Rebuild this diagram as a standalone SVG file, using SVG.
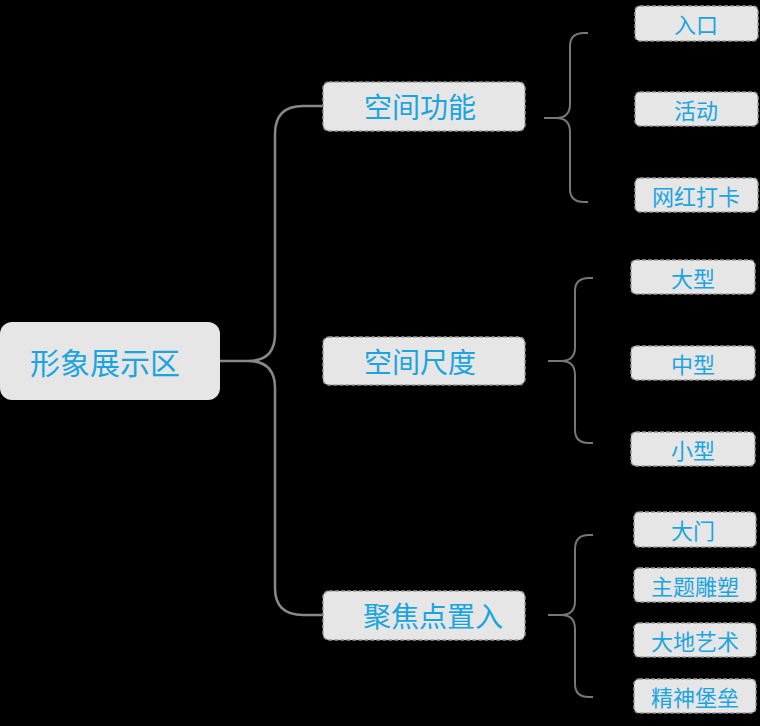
<svg xmlns="http://www.w3.org/2000/svg" width="760" height="726" viewBox="0 0 760 726">
<style>
.b{fill:#e6e6e6;stroke:#999;stroke-width:1.5;stroke-dasharray:4 2}
.t{fill:#1aa5e0;font-family:"Noto Sans CJK SC",sans-serif;text-anchor:middle;dominant-baseline:central}
.c{fill:none;stroke:#888;stroke-width:2.5}
.c2{fill:none;stroke:#777;stroke-width:2}
</style>
<rect width="760" height="726" fill="#000"/>
<g id="connectors">
<path class="c" d="M220 361H248Q275 361 275 334V134Q275 106 303 106H322M248 361Q275 361 275 388V588Q275 615 303 615H322"/>
<path class="c2" d="M544 118H556Q570 118 570 104V46Q570 33 584 33H588M556 118Q570 118 570 132V189Q570 202 584 202H588"/>
<path class="c2" d="M548 361H561Q575 361 575 347V291Q575 278 589 278H593M561 361Q575 361 575 375V430Q575 443 589 443H593"/>
<path class="c2" d="M548 615H561Q575 615 575 601V549Q575 535 589 535H593M561 615Q575 615 575 629V684Q575 697 589 697H593"/>
</g>
<g id="root"><rect x="0" y="322" width="220" height="78" rx="12" fill="#e6e6e6"/><text class="t" x="105" y="361" font-size="30">形象展示区</text></g>
<g id="n1"><rect class="b" x="323" y="82" width="202" height="49" rx="6"/><text class="t" x="420" y="106" font-size="28">空间功能</text></g>
<g id="n2"><rect class="b" x="323" y="337" width="202" height="48" rx="6"/><text class="t" x="420" y="361" font-size="28">空间尺度</text></g>
<g id="n3"><rect class="b" x="323" y="591" width="202" height="49" rx="6"/><text class="t" x="433" y="615" font-size="28">聚焦点置入</text></g>
<g id="a1"><rect class="b" x="635" y="6" width="123" height="35" rx="5"/><text class="t" x="696" y="23" font-size="22">入口</text></g>
<g id="a2"><rect class="b" x="635" y="92" width="123" height="34" rx="5"/><text class="t" x="696" y="109" font-size="22">活动</text></g>
<g id="a3"><rect class="b" x="635" y="178" width="123" height="34" rx="5"/><text class="t" x="696" y="195" font-size="22">网红打卡</text></g>
<g id="b1"><rect class="b" x="631" y="260" width="124" height="34" rx="5"/><text class="t" x="693" y="277" font-size="22">大型</text></g>
<g id="b2"><rect class="b" x="631" y="346" width="124" height="34" rx="5"/><text class="t" x="693" y="363" font-size="22">中型</text></g>
<g id="b3"><rect class="b" x="631" y="432" width="124" height="34" rx="5"/><text class="t" x="693" y="449" font-size="22">小型</text></g>
<g id="c1"><rect class="b" x="634" y="512" width="122" height="35" rx="5"/><text class="t" x="693" y="529" font-size="22">大门</text></g>
<g id="c2"><rect class="b" x="634" y="568" width="122" height="34" rx="5"/><text class="t" x="695" y="585" font-size="22">主题雕塑</text></g>
<g id="c3"><rect class="b" x="634" y="623" width="122" height="34" rx="5"/><text class="t" x="695" y="640" font-size="22">大地艺术</text></g>
<g id="c4"><rect class="b" x="634" y="679" width="122" height="34" rx="5"/><text class="t" x="695" y="696" font-size="22">精神堡垒</text></g>
</svg>
